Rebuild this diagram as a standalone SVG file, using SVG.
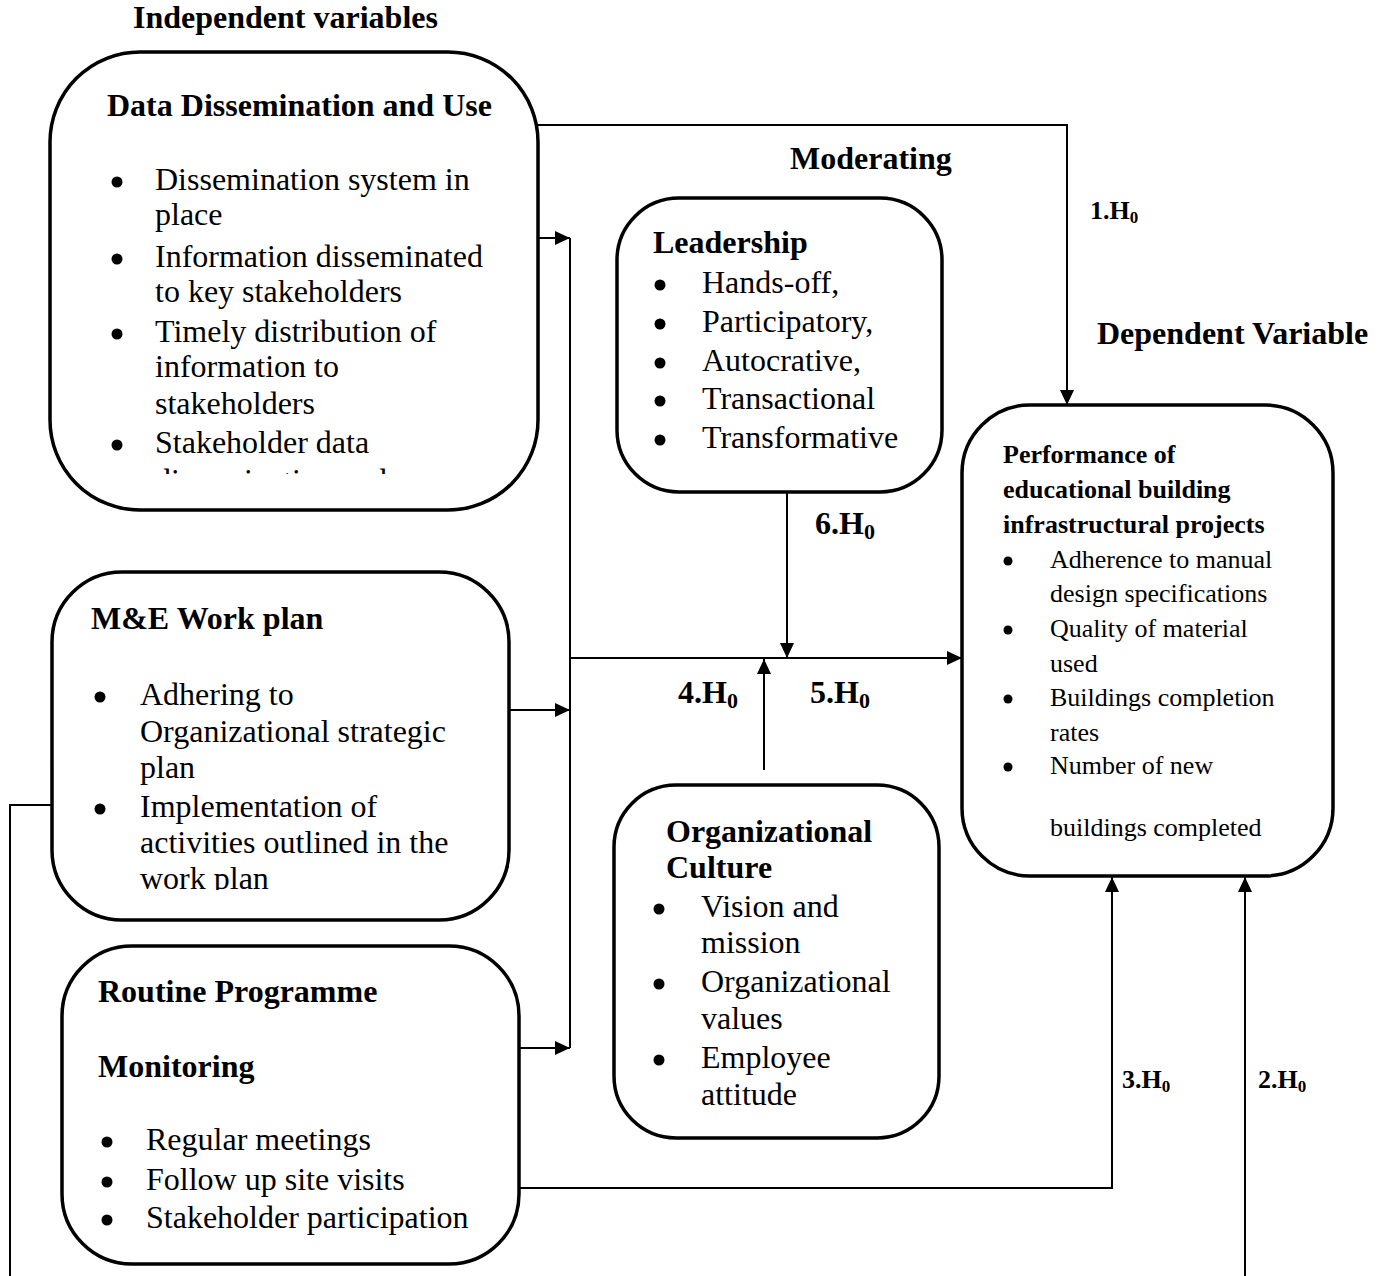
<svg xmlns="http://www.w3.org/2000/svg" width="1390" height="1276" viewBox="0 0 1390 1276">
<defs>
<style>
text{font-family:"Liberation Serif","Times New Roman",serif;fill:#000}
.h{font-size:32px;font-weight:bold}
.b{font-size:32px}
.ps{font-size:26px}
.pt{font-size:26px;font-weight:bold}
.lb{font-size:32px;font-weight:bold}
.ls{font-size:26px;font-weight:bold}
.box{fill:#fff;stroke:#000;stroke-width:3.5}
.c{fill:none;stroke:#000;stroke-width:2}
.dot{fill:#000}
</style>
<marker id="ah" markerUnits="userSpaceOnUse" markerWidth="15" markerHeight="14" refX="15" refY="7" orient="auto">
<path d="M0,0 L15,7 L0,14 z" fill="#000"/>
</marker>
<clipPath id="clip1"><rect x="50" y="52" width="488" height="422"/></clipPath>
<clipPath id="clip2"><rect x="52" y="572" width="457" height="318"/></clipPath>
</defs>
<rect width="1390" height="1276" fill="#fff"/>

<g id="headings">
<text class="h" x="133" y="28">Independent variables</text>
<text class="h" x="790" y="169">Moderating</text>
<text class="h" x="1097" y="344">Dependent Variable</text>
</g>

<g id="connectors">
<path class="c" d="M538,125 H1067 V405" marker-end="url(#ah)"/>
<path class="c" d="M538,238 H570" marker-end="url(#ah)"/>
<path class="c" d="M509,710 H570" marker-end="url(#ah)"/>
<path class="c" d="M520,1048 H570" marker-end="url(#ah)"/>
<path class="c" d="M570,238 V1048"/>
<path class="c" d="M570,658 H962" marker-end="url(#ah)"/>
<path class="c" d="M787,492 V658" marker-end="url(#ah)"/>
<path class="c" d="M764,770 V659" marker-end="url(#ah)"/>
<path class="c" d="M520,1188 H1112 V877" marker-end="url(#ah)"/>
<path class="c" d="M52,805 H10 V1276"/>
<path class="c" d="M1245,1276 V877" marker-end="url(#ah)"/>
</g>

<g id="labels">
<text class="ls" x="1090" y="219">1.H<tspan font-size="17" dy="4">0</tspan></text>
<text class="ls" x="1258" y="1088">2.H<tspan font-size="17" dy="4">0</tspan></text>
<text class="ls" x="1122" y="1088">3.H<tspan font-size="17" dy="4">0</tspan></text>
<text class="lb" x="678" y="703">4.H<tspan font-size="22" dy="5">0</tspan></text>
<text class="lb" x="810" y="703">5.H<tspan font-size="22" dy="5">0</tspan></text>
<text class="lb" x="815" y="534">6.H<tspan font-size="22" dy="5">0</tspan></text>
</g>

<g id="node-data-dissemination">
<rect class="box" x="50" y="52" width="488" height="458" rx="90" ry="90"/>
<text class="h" x="107" y="116">Data Dissemination and Use</text>
<circle class="dot" cx="117" cy="182" r="5.5"/>
<circle class="dot" cx="117" cy="259" r="5.5"/>
<circle class="dot" cx="117" cy="334" r="5.5"/>
<circle class="dot" cx="117" cy="445" r="5.5"/>
<text class="b" x="155" y="190">Dissemination system in</text>
<text class="b" x="155" y="225">place</text>
<text class="b" x="155" y="267">Information disseminated</text>
<text class="b" x="155" y="302">to key stakeholders</text>
<text class="b" x="155" y="342">Timely distribution of</text>
<text class="b" x="155" y="377">information to</text>
<text class="b" x="155" y="414">stakeholders</text>
<text class="b" x="155" y="453">Stakeholder data</text>
<text class="b" x="155" y="491" clip-path="url(#clip1)">dissemination and</text>
</g>

<g id="node-me-workplan">
<rect class="box" x="52" y="572" width="457" height="348" rx="70" ry="70"/>
<text class="h" x="91" y="629">M&amp;E Work plan</text>
<circle class="dot" cx="100" cy="697" r="5.5"/>
<circle class="dot" cx="100" cy="809" r="5.5"/>
<text class="b" x="140" y="705">Adhering to</text>
<text class="b" x="140" y="742">Organizational strategic</text>
<text class="b" x="140" y="778">plan</text>
<text class="b" x="140" y="817">Implementation of</text>
<text class="b" x="140" y="853">activities outlined in the</text>
<text class="b" x="140" y="889" clip-path="url(#clip2)">work plan</text>
</g>

<g id="node-routine-monitoring">
<rect class="box" x="62" y="946" width="457" height="318" rx="70" ry="70"/>
<text class="h" x="98" y="1002">Routine Programme</text>
<text class="h" x="98" y="1077">Monitoring</text>
<circle class="dot" cx="107" cy="1142" r="5.5"/>
<circle class="dot" cx="107" cy="1182" r="5.5"/>
<circle class="dot" cx="107" cy="1220" r="5.5"/>
<text class="b" x="146" y="1150">Regular meetings</text>
<text class="b" x="146" y="1190">Follow up site visits</text>
<text class="b" x="146" y="1228">Stakeholder participation</text>
</g>

<g id="node-leadership">
<rect class="box" x="617" y="198" width="325" height="294" rx="62" ry="62"/>
<text class="h" x="653" y="253">Leadership</text>
<circle class="dot" cx="660" cy="285" r="5.5"/>
<circle class="dot" cx="660" cy="324" r="5.5"/>
<circle class="dot" cx="660" cy="363" r="5.5"/>
<circle class="dot" cx="660" cy="401" r="5.5"/>
<circle class="dot" cx="660" cy="440" r="5.5"/>
<text class="b" x="702" y="293">Hands-off,</text>
<text class="b" x="702" y="332">Participatory,</text>
<text class="b" x="702" y="371">Autocrative,</text>
<text class="b" x="702" y="409">Transactional</text>
<text class="b" x="702" y="448">Transformative</text>
</g>

<g id="node-org-culture">
<rect class="box" x="614" y="785" width="325" height="353" rx="62" ry="62"/>
<text class="h" x="666" y="842">Organizational</text>
<text class="h" x="666" y="878">Culture</text>
<circle class="dot" cx="659" cy="909" r="5.5"/>
<circle class="dot" cx="659" cy="984" r="5.5"/>
<circle class="dot" cx="659" cy="1060" r="5.5"/>
<text class="b" x="701" y="917">Vision and</text>
<text class="b" x="701" y="953">mission</text>
<text class="b" x="701" y="992">Organizational</text>
<text class="b" x="701" y="1029">values</text>
<text class="b" x="701" y="1068">Employee</text>
<text class="b" x="701" y="1105">attitude</text>
</g>

<g id="node-performance">
<rect class="box" x="962" y="405" width="371" height="471" rx="68" ry="68"/>
<text class="pt" x="1003" y="463">Performance of</text>
<text class="pt" x="1003" y="498">educational building</text>
<text class="pt" x="1003" y="533">infrastructural projects</text>
<circle class="dot" cx="1008" cy="561" r="4.5"/>
<circle class="dot" cx="1008" cy="630" r="4.5"/>
<circle class="dot" cx="1008" cy="699" r="4.5"/>
<circle class="dot" cx="1008" cy="767" r="4.5"/>
<text class="ps" x="1050" y="568">Adherence to manual</text>
<text class="ps" x="1050" y="602">design specifications</text>
<text class="ps" x="1050" y="637">Quality of material</text>
<text class="ps" x="1050" y="672">used</text>
<text class="ps" x="1050" y="706">Buildings completion</text>
<text class="ps" x="1050" y="741">rates</text>
<text class="ps" x="1050" y="774">Number of new</text>
<text class="ps" x="1050" y="836">buildings completed</text>
</g>
</svg>
